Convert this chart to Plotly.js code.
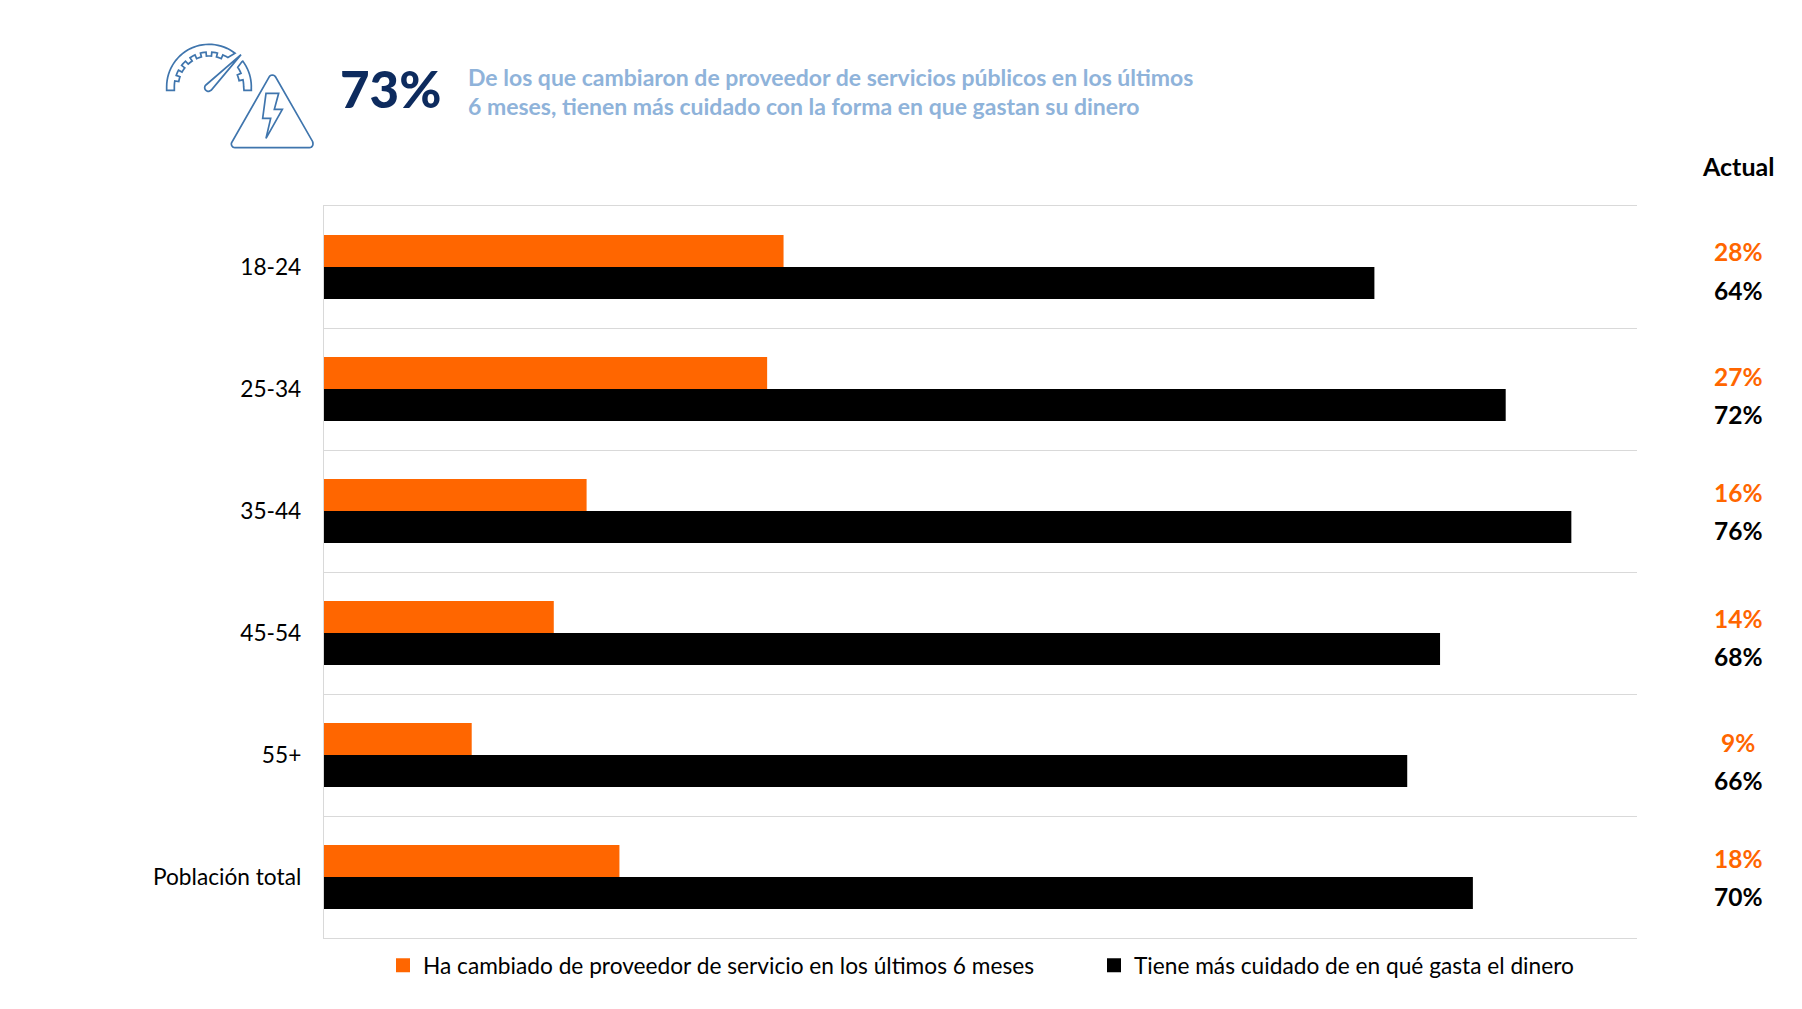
<!DOCTYPE html>
<html><head><meta charset="utf-8">
<script src="https://cdn.plot.ly/plotly-3.0.1.min.js"></script>
<style>html,body{margin:0;padding:0;background:#fff}#c{width:1802px;height:1009px}</style>
</head><body><div id="c"></div>
<script>
const categories = ['18-24','25-34','35-44','45-54','55+','Población total'];
const cambiado = [28,27,16,14,9,18];
const cuidado = [64,72,76,68,66,70];
const serieCambiado = 'Ha cambiado de proveedor de servicio en los últimos 6 meses';
const serieCuidado = 'Tiene más cuidado de en qué gasta el dinero';
const ORANGE='#ff6600', BLACK='#000000', FONT='Lato, Carlito, sans-serif';
const W=1802,H=1009, L=324,R=1637,T=206,B=938;
const yCambiado=[252,376,492,618,742,858], yCuidado=[290,414,530,656,780,896];

const px=(x,y)=>((x-L)/(R-L)).toFixed(5)+','+((B-y)/(B-T)).toFixed(5);
const zx=x=>140+x/3, zy=y=>20+y/3;
const zp=(x,y)=>px(zx(x),zy(y));
const poly=(pts,close)=>'M'+pts.map(p=>zp(p[0],p[1])).join('L')+(close?'Z':'');
const ICON='#3f75ad';
const iconPaths=[];
function arcPts(cx,cy,r,a0,a1,n){const o=[];for(let i=0;i<=n;i++){const a=(a0+(a1-a0)*i/n)*Math.PI/180;o.push([cx+r*Math.cos(a),cy-r*Math.sin(a)]);}return o;}
function toothed(cx,cy,r1,r2,a0,a1,n){const o=[];const st=(a1-a0)/n;for(let i=0;i<n;i++){const a=a0+st*i,b=a+st;const r=i%2?r2:r1;o.push(...arcPts(cx,cy,r,a,b,3));}return o;}
const gx=207,gy=200;
iconPaths.push(poly([[80,211],[80,200],...arcPts(gx,gy,127,180,52,30),...toothed(gx,gy,104,92,57,180,13),[103,211]],true));
iconPaths.push(poly([[305,126],...arcPts(gx,gy,127,37,-3,10),[334,211],[312,211],...toothed(gx,gy,104,92,0,34,3)],true));
iconPaths.push(poly([[303,104],[214,210],...arcPts(205,203,11,-40,-240,10).slice(1),[303,104]],true));
iconPaths.push(poly([[388,170],...arcPts(397,176,11,150,30,6),[518,365],...arcPts(508,372,11,20,-90,6),[285,383],...arcPts(285,372,11,-90,-200,6)],true));
iconPaths.push(poly([[378,220],[416,220],[403,268],[427,268],[378,355],[392,295],[368,295]],true));

const shapes=iconPaths.map(p=>({type:'path',xref:'paper',yref:'paper',path:p,line:{color:ICON,width:1.7},fillcolor:'rgba(0,0,0,0)'}));

const ann=(x,y,text,size,color,opts)=>{const a=Object.assign({xref:'paper',yref:'paper',x:(x-L)/(R-L),y:(B-y)/(B-T),text,showarrow:false,
  font:{family:FONT,size,color},xanchor:'center',yanchor:'middle'},opts||{});return a;};
const heavy=ann(390,89,'73%',51,'#0d2b5e');
heavy.font.weight=900;
const annotations=[
  heavy,
  ann(466,77,'<b>De los que cambiaron de proveedor de servicios públicos en los últimos</b>',23,'#8fb3da',{xanchor:'left'}),
  ann(466,106,'<b>6 meses, tienen más cuidado con la forma en que gastan su dinero</b>',23,'#8fb3da',{xanchor:'left'}),
  ann(1738,166,'<b>Actual</b>',25,'#000000')
];
categories.forEach((c,i)=>{
  annotations.push(ann(1738,yCambiado[i],'<b>'+cambiado[i]+'%</b>',24.5,ORANGE));
  annotations.push(ann(1738,yCuidado[i],'<b>'+cuidado[i]+'%</b>',24.5,BLACK));
});

const traces=[
  {type:'bar',orientation:'h',y:categories,x:cambiado,name:serieCambiado,marker:{color:ORANGE},showlegend:false,hoverinfo:'x+y'},
  {type:'bar',orientation:'h',y:categories,x:cuidado,name:serieCuidado,marker:{color:BLACK},showlegend:false,hoverinfo:'x+y'},
  {type:'scatter',mode:'markers',x:[null],y:[null],name:serieCambiado,marker:{symbol:'square',size:14,color:ORANGE},legend:'legend'},
  {type:'scatter',mode:'markers',x:[null],y:[null],name:serieCuidado,marker:{symbol:'square',size:14,color:BLACK},legend:'legend2'}
];
const legBase=(x)=>({xref:'container',yref:'container',x:x/W,xanchor:'left',y:(H-944)/H,yanchor:'top',
  font:{family:FONT,size:22.7,color:'#000'},itemwidth:30,bgcolor:'rgba(0,0,0,0)',orientation:'h'});
const layout={
  width:W,height:H,paper_bgcolor:'#fff',plot_bgcolor:'#fff',
  margin:{l:L,r:W-R,t:T,b:H-B,pad:0,autoexpand:false},
  barmode:'group',bargap:0.475,bargroupgap:0,
  font:{family:FONT,size:22.7,color:'#000'},
  xaxis:{range:[0,80],showticklabels:false,showgrid:false,zeroline:false,ticks:'',showline:true,mirror:true,linecolor:'#d9d9d9',linewidth:1.3,fixedrange:true},
  yaxis:{type:'category',categoryorder:'array',categoryarray:categories,autorange:'reversed',tickson:'boundaries',
    showgrid:true,gridcolor:'#d9d9d9',gridwidth:1.3,showline:true,linecolor:'#d9d9d9',linewidth:1.3,ticks:'',
    ticklabelstandoff:17,tickfont:{family:FONT,size:22.7,color:'#000'},zeroline:false,fixedrange:true},
  legend:legBase(383),legend2:legBase(1094),
  shapes,annotations,showlegend:true
};
Plotly.newPlot('c',traces,layout,{displayModeBar:false,responsive:false});
</script></body></html>
